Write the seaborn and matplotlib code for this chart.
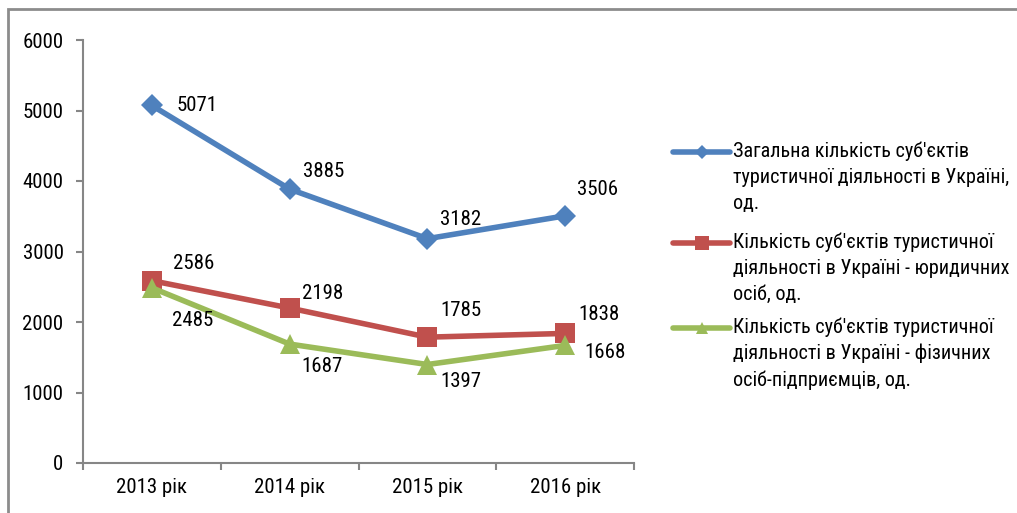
import matplotlib
matplotlib.use("Agg")
import matplotlib.pyplot as plt
import seaborn as sns
import pandas as pd
from matplotlib.patches import Rectangle
from matplotlib.lines import Line2D
from matplotlib import font_manager as fm

years = ["2013 рік", "2014 рік", "2015 рік", "2016 рік"]
total = [5071, 3885, 3182, 3506]
legal = [2586, 2198, 1785, 1838]
individual = [2485, 1687, 1397, 1668]
series_names = [
    "Загальна кількість суб'єктів\nтуристичної діяльності в Україні,\nод.",
    "Кількість суб'єктів туристичної\nдіяльності в Україні - юридичних\nосіб, од.",
    "Кількість суб'єктів туристичної\nдіяльності в Україні - фізичних\nосіб-підприємців, од.",
]
y_ticks = [0, 1000, 2000, 3000, 4000, 5000, 6000]

colors = ["#4F81BD", "#C0504D", "#9BBB59"]
markers = ["D", "s", "^"]
msizes = [11, 14, 15]
leg_msizes = [7, 10, 9]
# label offsets in pixels (dx, dy)
offsets = [
    [(25, 0), (13, 18), (13, 19), (12, 26)],
    [(21, 17), (12, 15), (13, 27), (13, 19)],
    [(20, -33), (12, -22), (13, -17), (19, -7)],
]
# first-line centre of each legend entry (px from top)
leg_rows = [152, 243, 328]

sns.set_theme(style="white")

names = {f.name for f in fm.fontManager.ttflist}
narrow = None
for cand in ["Liberation Sans Narrow", "Arial Narrow", "Roboto Condensed", "Open Sans Condensed"]:
    if cand in names:
        narrow = cand
        break
if narrow:
    plt.rcParams['font.family'] = [narrow, 'Liberation Sans', 'DejaVu Sans']
    fs, lfs = 15, 14.5
else:
    plt.rcParams['font.family'] = ['Liberation Sans', 'DejaVu Sans']
    fs, lfs = 13.5, 12.5

W, H = 1017, 513
fig = plt.figure(figsize=(W / 100, H / 100), dpi=100)
ax = fig.add_axes([83 / W, 1 - 463 / H, (634 - 83) / W, (463 - 40) / H])

all_series = [total, legal, individual]
for vals, name, c, m, ms, offs in zip(all_series, series_names, colors, markers, msizes, offsets):
    df = pd.DataFrame({"year": years, "value": vals})
    sns.lineplot(data=df, x="year", y="value", ax=ax, color=c, marker=m,
                 markersize=ms, markeredgewidth=0, linewidth=4, sort=False)
    for i, v in enumerate(vals):
        ax.annotate(str(v), (i, v), xytext=offs[i], textcoords="offset pixels",
                    ha="left", va="center", fontsize=fs, color="black")

ax.set_xlim(-0.5, 3.5)
ax.set_ylim(0, 6000)
ax.set_yticks(y_ticks)
ax.set_yticklabels([str(t) for t in y_ticks])
ax.set_xticks(range(len(years)))
ax.set_xticklabels(years)
ax.set_xticks([-0.5, 0.5, 1.5, 2.5, 3.5], minor=True)
ax.set_xlabel("")
ax.set_ylabel("")
for s in ["top", "right"]:
    ax.spines[s].set_visible(False)
for s in ["left", "bottom"]:
    ax.spines[s].set_color("#868686")
    ax.spines[s].set_linewidth(1.5)
ax.tick_params(axis="y", which="major", direction="out", length=5, width=1.5,
               color="#868686", left=True, labelsize=fs, pad=9, labelcolor="black")
ax.tick_params(axis="x", which="major", length=0, labelsize=fs, pad=11, labelcolor="black")
ax.tick_params(axis="x", which="minor", direction="out", length=5, width=1.5,
               color="#868686", bottom=True)

# legend: handle aligned with first line of each multi-line label
for name, c, m, lms, row in zip(series_names, colors, markers, leg_msizes, leg_rows):
    yf = 1 - row / H
    fig.add_artist(Line2D([673 / W, 730 / W], [yf, yf], transform=fig.transFigure,
                          color=c, linewidth=4, solid_capstyle="round"))
    fig.add_artist(Line2D([701.5 / W], [yf], transform=fig.transFigure, color=c,
                          marker=m, markersize=lms, markeredgewidth=0, linestyle="none"))
    fig.text(733 / W, 1 - (row - 10.5) / H, name, fontsize=lfs, ha="left",
             va="top", linespacing=1.45, color="black")

fig.patches.append(Rectangle((8 / W, -10 / H), 1030 / W, (H - 9 + 10) / H,
                             transform=fig.transFigure, fill=False,
                             edgecolor="#8c8c8c", linewidth=2))

fig.savefig("out.png", dpi=100)
